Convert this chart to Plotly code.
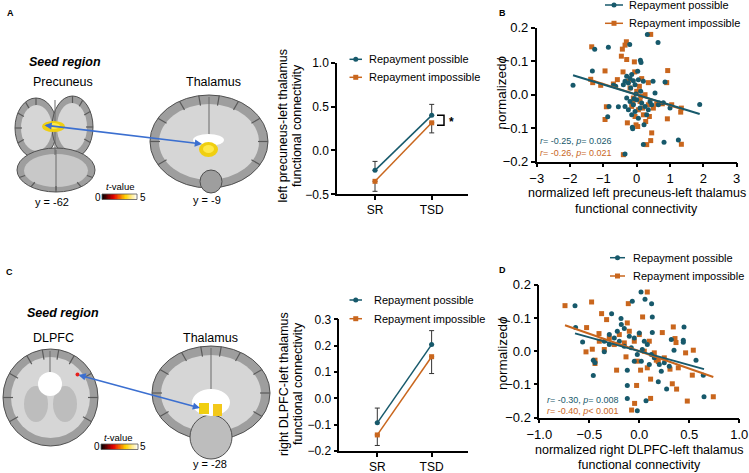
import numpy as np
import plotly.graph_objects as go

W, H = 749, 473
TEAL = "#17596b"
ORANGE = "#c9661d"
FONT = "Liberation Sans, Arial, sans-serif"

# ---- data ----
conditions = ["SR", "TSD"]

# panel A: left precuneus - left thalamus FC
a_possible = [-0.227, 0.400]
a_possible_err = [0.102, 0.125]
a_impossible = [-0.352, 0.315]
a_impossible_err = [0.114, 0.115]

# panel C: right DLPFC - left thalamus FC
c_possible = [-0.093, 0.204]
c_possible_err = [0.056, 0.053]
c_impossible = [-0.139, 0.158]
c_impossible_err = [0.040, 0.064]

# panel B scatter
b_possible_x = [-1.91, -1.26, -0.85, -1.33, -0.70, -0.63, -0.83, -0.87, -0.55, -0.35,
                -0.21, 0.32, 0.64, 0.11, 0.13, -0.35, -0.30, -0.25, -0.20, -0.15,
                -0.10, -0.05, -0.18, -0.40, 0.03, 0.05, 0.20, 0.49, 0.85, 0.80,
                0.65, 1.89, 1.25, 0.82, 0.20, -0.35, -0.13, -0.12, -0.30, -0.20,
                -0.10, 0.00, 0.10, 0.15, 0.25, 0.35, 0.40, 0.30, 0.45, -0.05,
                0.05, -0.15, 0.12, -0.25, 1.00, 0.55, 0.22, -0.02, 0.68, -0.08]
b_possible_y = [0.028, 0.136, 0.142, 0.071, 0.028, 0.025, -0.035, -0.066, -0.036, -0.035,
                0.150, 0.180, 0.156, 0.103, 0.096, 0.040, 0.055, 0.035, 0.048, 0.060,
                0.042, 0.030, 0.020, 0.030, 0.070, 0.045, 0.040, 0.040, 0.038, -0.024,
                -0.030, -0.029, -0.135, -0.142, -0.149, -0.177, -0.097, -0.102, -0.010, -0.020,
                -0.030, -0.015, -0.040, -0.025, -0.035, -0.045, -0.020, -0.060, -0.030, -0.050,
                -0.070, -0.060, 0.010, -0.045, -0.040, 0.005, -0.090, 0.002, -0.025, -0.012]
b_impossible_x = [-1.35, -0.43, -0.35, -0.31, 0.42, -0.46, -0.30, -0.07, -0.95, 0.93,
                  -1.38, -1.32, -1.08, -0.58, -0.41, -0.06, 0.15, 0.35, 0.90, -0.91,
                  -0.95, -0.11, -0.28, 0.03, 0.27, 0.45, 0.42, 0.30, -0.40, 1.34,
                  1.32, 1.34, 0.92, 1.05, 0.77, 0.10, 0.05, -0.10, 0.00, 0.20,
                  0.35, 0.50, -0.20, 0.08, -0.05, 0.18, 0.38, -0.15, 0.25, 0.12,
                  -0.25, -0.02, 0.60, -0.70]
b_impossible_y = [0.143, 0.136, 0.148, 0.158, 0.180, 0.115, 0.105, 0.098, 0.071, 0.072,
                  0.046, 0.036, 0.028, 0.045, 0.068, 0.068, 0.048, 0.036, 0.036, -0.036,
                  -0.074, -0.025, -0.084, -0.095, -0.080, -0.114, -0.137, -0.149, -0.179, -0.148,
                  -0.052, -0.040, -0.072, -0.030, -0.027, -0.020, -0.045, -0.010, 0.010, -0.060,
                  -0.030, -0.040, 0.020, 0.025, -0.065, -0.040, -0.065, -0.035, 0.000, -0.005,
                  0.040, -0.090, -0.028, 0.032]

# panel D scatter
d_possible_x = [-0.643, -0.637, -0.567, -0.46, -0.443, -0.46, -0.35, -0.277, -0.183, 0.017,
                0.057, -0.07, 0.123, 0.13, 0.13, 0.447, 0.44, 0.44, 0.347, 0.567,
                0.64, 0.647, 0.273, 0.19, -0.12, -0.12, -0.02, 0.067, -0.12, -0.30,
                -0.25, -0.22, -0.20, -0.15, -0.10, -0.05, 0.00, 0.05, 0.08, -0.08,
                -0.02, -0.05, 0.02, 0.10, 0.15, 0.20, 0.25, 0.30, 0.22, 0.12,
                -0.15, -0.30, -0.35, 0.03, -0.18, 0.32]
d_possible_y = [0.137, 0.071, 0.028, -0.027, -0.035, -0.073, -0.002, 0.113, 0.098, 0.178,
                0.156, 0.150, 0.143, 0.103, 0.056, 0.073, 0.033, 0.027, 0.003, -0.027,
                -0.072, -0.137, -0.114, -0.092, -0.103, -0.142, -0.179, -0.149, -0.057, 0.050,
                0.040, 0.060, 0.030, 0.068, 0.045, 0.040, 0.055, 0.030, 0.020, 0.010,
                -0.010, -0.030, -0.030, -0.040, -0.020, -0.040, -0.035, -0.045, -0.060, -0.010,
                0.015, 0.020, 0.030, 0.005, 0.080, 0.035]
d_impossible_x = [-0.743, -0.477, -0.377, -0.327, -0.11, 0.08, 0.033, -0.12, -0.527, -0.403,
                  -0.533, -0.47, -0.443, -0.443, -0.227, -0.133, 0.34, 0.23, 0.357, 0.367,
                  0.463, 0.54, 0.53, 0.74, 0.48, 0.373, 0.33, 0.113, -0.027, 0.113,
                  -0.047, -0.077, 0.013, 0.17, 0.19, 0.307, 0.39, -0.40, -0.30, -0.20,
                  -0.25, -0.10, -0.05, 0.00, 0.05, 0.10, 0.15, -0.15, -0.02, 0.25,
                  0.08, -0.35]
d_impossible_y = [0.137, 0.148, 0.113, 0.095, 0.143, 0.178, 0.103, 0.085, 0.071, 0.053,
                  -0.002, 0.006, -0.027, -0.037, -0.057, -0.017, 0.073, 0.056, 0.038, 0.026,
                  -0.005, 0.003, -0.072, -0.137, -0.150, -0.114, -0.098, -0.084, -0.103, -0.142,
                  -0.157, -0.177, -0.057, -0.027, -0.031, -0.054, -0.050, 0.030, 0.040, 0.050,
                  0.020, 0.060, 0.030, 0.050, 0.000, 0.030, -0.005, 0.025, -0.030, -0.020,
                  -0.050, 0.005]

# fitted lines (intercept, slope)
b_fit_possible = (0.0, -0.0305)
b_fit_impossible = (0.0, -0.032)
d_fit_possible = (0.0, -0.0835)
d_fit_impossible = (0.0, -0.105)

stats_b = ["<i>r</i>= -0.25, <i>p</i>= 0.026", "<i>r</i>= -0.26, <i>p</i>= 0.021"]
stats_d = ["<i>r</i>= -0.30, <i>p</i>= 0.008", "<i>r</i>= -0.40, <i>p</i>< 0.001"]
legend_names = ["Repayment possible", "Repayment impossible"]


def px(x):
    return x / W


def py(y):
    return 1 - y / H


def dom_x(a, b):
    return [px(a), px(b)]


def dom_y(top, bottom):
    return [py(bottom), py(top)]


def axis_style(size=12, **kw):
    d = dict(showline=True, linecolor="black", linewidth=1.5, ticks="outside",
             ticklen=4, tickwidth=1.5, tickcolor="black", showgrid=False,
             zeroline=False, automargin=False,
             tickfont=dict(size=size, color="black", family=FONT))
    d.update(kw)
    return d


def ell(x0, y0, x1, y1, fill, line="#505050", lw=1):
    return dict(type="circle", xref="paper", yref="paper", x0=px(x0), x1=px(x1),
                y0=py(y1), y1=py(y0), fillcolor=fill,
                line=dict(color=line, width=lw if line else 0), layer="above")


def rect(x0, y0, x1, y1, fill, line=None, lw=0):
    return dict(type="rect", xref="paper", yref="paper", x0=px(x0), x1=px(x1),
                y0=py(y1), y1=py(y0), fillcolor=fill,
                line=dict(color=line or fill, width=lw), layer="above")


def seg(x0, y0, x1, y1, color, w=1.5):
    return dict(type="line", xref="paper", yref="paper", x0=px(x0), x1=px(x1),
                y0=py(y0), y1=py(y1), line=dict(color=color, width=w), layer="above")


def sulci(cx, cy, rx, ry, angles, depth, color="#5a5a5a"):
    # short dark strokes from the rim towards the centre of a slice
    out = []
    for a in angles:
        t = np.radians(a)
        x0, y0 = cx + rx * np.cos(t), cy + ry * np.sin(t)
        x1, y1 = cx + (rx - depth) * np.cos(t), cy + (ry - depth) * np.sin(t)
        out.append(seg(x0, y0, x1, y1, color, 1.2))
    return out


def text(x, y, s, size=12, anchor="center", angle=0, color="black", bold=False):
    if bold:
        s = "<b>" + s + "</b>"
    return dict(x=px(x), y=py(y), xref="paper", yref="paper", text=s, showarrow=False,
                xanchor=anchor, yanchor="middle", textangle=angle,
                font=dict(size=size, color=color, family=FONT))


fig = go.Figure()

# ---- line plots (A, C) ----
for xa, ya, pos, pos_e, imp, imp_e in [("x", "y", a_possible, a_possible_err, a_impossible, a_impossible_err),
                                        ("x3", "y3", c_possible, c_possible_err, c_impossible, c_impossible_err)]:
    fig.add_trace(go.Scatter(
        x=[0, 1], y=imp, xaxis=xa, yaxis=ya, mode="lines+markers",
        line=dict(color=ORANGE, width=1.5),
        marker=dict(symbol="square", size=5, color=ORANGE),
        error_y=dict(type="data", symmetric=False, array=[0, 0], arrayminus=imp_e,
                     color="#333333", thickness=1, width=2.5),
        showlegend=False, cliponaxis=False))
    fig.add_trace(go.Scatter(
        x=[0, 1], y=pos, xaxis=xa, yaxis=ya, mode="lines+markers",
        line=dict(color=TEAL, width=1.5),
        marker=dict(symbol="circle", size=5, color=TEAL),
        error_y=dict(type="data", symmetric=False, array=pos_e, arrayminus=[0, 0],
                     color="#333333", thickness=1, width=2.5),
        showlegend=False, cliponaxis=False))

# ---- scatter plots (B, D) ----
for xa, ya, sets in [("x2", "y2", [(b_possible_x, b_possible_y, b_fit_possible, TEAL, "circle"),
                                   (b_impossible_x, b_impossible_y, b_fit_impossible, ORANGE, "square")]),
                     ("x4", "y4", [(d_possible_x, d_possible_y, d_fit_possible, TEAL, "circle"),
                                   (d_impossible_x, d_impossible_y, d_fit_impossible, ORANGE, "square")])]:
    for xs, ys, fit, col, sym in sets[::-1]:
        fig.add_trace(go.Scatter(x=xs, y=ys, xaxis=xa, yaxis=ya, mode="markers",
                                 marker=dict(symbol=sym, size=5, color=col),
                                 showlegend=False, cliponaxis=False))
    for xs, ys, fit, col, sym in sets[::-1]:
        xl = np.array([min(xs), max(xs)])
        fig.add_trace(go.Scatter(x=xl, y=fit[0] + fit[1] * xl, xaxis=xa, yaxis=ya,
                                 mode="lines", line=dict(color=col, width=2),
                                 showlegend=False))

# ---- colour bars ----
scale = [np.linspace(0, 5, 60)]
for xa, ya in [("x5", "y5"), ("x6", "y6")]:
    fig.add_trace(go.Heatmap(z=scale, xaxis=xa, yaxis=ya, colorscale="Hot",
                             showscale=False, hoverinfo="skip"))

fig.update_layout(
    width=W, height=H, margin=dict(l=0, r=0, t=0, b=0, pad=0, autoexpand=False),
    paper_bgcolor="white", plot_bgcolor="white", showlegend=False,
    font=dict(family=FONT, color="black"),
    xaxis=axis_style(domain=dom_x(337, 468), range=[-0.67, 1.64], anchor="y",
                     tickvals=[0, 1], ticktext=conditions),
    yaxis=axis_style(domain=dom_y(62.7, 194.3), range=[-0.5, 1.0], anchor="x",
                     tickvals=[-0.5, 0, 0.5, 1.0], tickformat=".1f"),
    xaxis2=axis_style(13, domain=dom_x(536.7, 736.7), range=[-3, 3], anchor="y2",
                      tickvals=[-3, -2, -1, 0, 1, 2, 3]),
    yaxis2=axis_style(13, domain=dom_y(27.7, 161.7), range=[-0.2, 0.2], anchor="x2",
                      tickvals=[-0.2, -0.1, 0, 0.1, 0.2], tickformat=".1f"),
    xaxis3=axis_style(domain=dom_x(339.3, 468), range=[-0.70, 1.67], anchor="y3",
                      tickvals=[0, 1], ticktext=conditions),
    yaxis3=axis_style(domain=dom_y(319.3, 451), range=[-0.2, 0.3], anchor="x3",
                      tickvals=[-0.2, -0.1, 0, 0.1, 0.2, 0.3], tickformat=".1f"),
    xaxis4=axis_style(13, domain=dom_x(539.3, 739.3), range=[-1, 1], anchor="y4",
                      tickvals=[-1, -0.5, 0, 0.5, 1], tickformat=".1f"),
    yaxis4=axis_style(13, domain=dom_y(284.7, 417.7), range=[-0.2, 0.2], anchor="x4",
                      tickvals=[-0.2, -0.1, 0, 0.1, 0.2], tickformat=".1f"),
    xaxis5=dict(domain=dom_x(102, 137), visible=False, anchor="y5", automargin=False),
    yaxis5=dict(domain=dom_y(194, 199.5), visible=False, anchor="x5", automargin=False),
    xaxis6=dict(domain=dom_x(101, 138), visible=False, anchor="y6", automargin=False),
    yaxis6=dict(domain=dom_y(444, 449.5), visible=False, anchor="x6", automargin=False),
)

shapes = []
ann = []

# ---- brain slices, panel A ----
shapes += [
    ell(15, 98, 57, 158, "#9e9e9e"), ell(52, 96, 93, 158, "#9e9e9e"),
    ell(21, 105, 52, 151, "#d6d6d6", None), ell(57, 103, 87, 151, "#d6d6d6", None),
    ell(17, 148, 95, 192, "#9e9e9e"), ell(24, 154, 88, 187, "#c8c8c8", None),
    seg(55, 100, 55, 155, "#6a6a6a", 1), seg(56, 150, 56, 190, "#6a6a6a", 1),
]
shapes += sulci(36, 128, 21, 30, [150, 180, 210, 240, 270], 7)
shapes += sulci(72.5, 127, 20.5, 31, [-90, -60, -30, 0, 30], 7)
shapes += sulci(56, 170, 39, 22, [20, 50, 90, 130, 160], 6)
shapes += [ell(42, 121, 65, 132, "#f0cf10", None), ell(47, 123, 60, 129, "#ffe94a", None)]
shapes += [
    ell(150, 95, 268, 188, "#9e9e9e"), ell(159, 104, 259, 180, "#d6d6d6", None),
    ell(200, 170, 222, 193, "#9e9e9e"),
    seg(209, 97, 209, 135, "#6a6a6a", 1),
]
shapes += sulci(209, 141.5, 59, 46.5, [-150, -120, -100, -80, -60, -30, 0, 30, 150, 180], 10)
shapes += [
    ell(193, 134, 224, 146, "white", None),
    ell(199, 142, 218, 157, "#f0cf10", None), ell(203, 145, 214, 153, "#ffe94a", None),
]
# ---- brain slices, panel C ----
shapes += [
    ell(3, 349, 98, 446, "#9e9e9e"), ell(11, 357, 90, 438, "#d6d6d6", None),
    ell(24, 386, 48, 422, "#bdbdbd", None), ell(53, 386, 77, 422, "#bdbdbd", None),
    seg(50, 351, 50, 372, "#6a6a6a", 1),
]
shapes += sulci(50.5, 397.5, 47.5, 48.5, [-150, -120, -100, -80, -60, -30, 0, 30, 150, 180], 10)
shapes += [
    ell(38, 372, 62, 396, "white", None),
    ell(75.5, 372.5, 79.5, 376.5, "#e8201c", None),
    ell(152, 346, 270, 440, "#9e9e9e"), ell(161, 355, 261, 432, "#d6d6d6", None),
]
shapes += sulci(211, 393, 59, 47, [-150, -120, -100, -80, -60, -30, 0, 30, 150, 180], 10)
shapes += [
    ell(190, 415, 232, 459, "#bdbdbd"),
    seg(211, 348, 211, 389, "#6a6a6a", 1),
    ell(192, 389, 230, 416, "white", None),
    rect(199, 403, 209, 414, "#f0cf10"), rect(213, 404, 222, 416, "#f3c81a"),
]
# colour bar frames
shapes += [dict(type="rect", xref="paper", yref="paper", x0=px(102), x1=px(137),
                y0=py(199.5), y1=py(194), line=dict(color="#555", width=0.8)),
           dict(type="rect", xref="paper", yref="paper", x0=px(101), x1=px(138),
                y0=py(449.5), y1=py(444), line=dict(color="#555", width=0.8))]

# connection arrows
for (x0, y0), (x1, y1) in [((43, 125), (202, 144)), ((77, 374.5), (200, 408))]:
    ann.append(dict(x=px(x1), y=py(y1), xref="paper", yref="paper", ax=x0 - x1, ay=y0 - y1,
                    axref="pixel", ayref="pixel", text="", showarrow=True,
                    arrowhead=2, arrowside="end+start", arrowsize=0.9, arrowwidth=1.6,
                    arrowcolor="#3b6fd0", standoff=0, startstandoff=0))

# brain labels
ann += [
    text(5, 12.7, "A", 9, "left", bold=True), text(4, 272, "C", 9, "left", bold=True),
    text(496.7, 12.7, "B", 9, "left", bold=True), text(496.7, 270.3, "D", 9, "left", bold=True),
    text(27, 61.7, "<i>Seed region</i>", 12.5, "left", bold=True),
    text(62.7, 81.7, "Precuneus", 12.5), text(213, 81.7, "Thalamus", 12.5),
    text(52, 201.7, "y = -62", 11), text(207, 200, "y = -9", 11),
    text(120, 186.7, "<i>t</i>-value", 9.5),
    text(97.7, 197, "0", 10), text(142.7, 197, "5", 10),
    text(25, 313.3, "<i>Seed region</i>", 12.5, "left", bold=True),
    text(53, 338.3, "DLPFC", 12.5), text(210.7, 337.7, "Thalamus", 12.5),
    text(210, 464.3, "y = -28", 11),
    text(119, 437.7, "<i>t</i>-value", 9.5),
    text(97, 446.7, "0", 10), text(143, 446.7, "5", 10),
]

# axis titles
ann += [
    text(282.5, 126, "left precuneus-left thalamus", 12.5, angle=-90),
    text(297, 126, "functional connectivity", 12.5, angle=-90),
    text(284, 384, "right DLPFC-left thalamus", 12.5, angle=-90),
    text(298, 384, "functional connectivity", 12.5, angle=-90),
    text(501, 92.5, "normalized<i>ϕ</i>", 13.5, angle=-90),
    text(502, 353, "normalized<i>ϕ</i>", 13.5, angle=-90),
    text(636.7, 193, "normalized left precuneus-left thalamus", 12.5),
    text(636.7, 208.5, "functional connectivity", 12.5),
    text(639.3, 450, "normalized right DLPFC-left thalamus", 12.5),
    text(639.3, 465.3, "functional connectivity", 12.5),
]

# correlation stats
ann += [
    text(538, 141, stats_b[0], 9, "left", color=TEAL),
    text(538, 152.7, stats_b[1], 9, "left", color=ORANGE),
    text(545, 400.3, stats_d[0], 9, "left", color=TEAL),
    text(545, 411, stats_d[1], 9, "left", color=ORANGE),
]

# significance bracket in A
shapes.append(dict(type="path", xref="paper", yref="paper",
                   path="M {} {} L {} {} L {} {} L {} {}".format(
                       px(437), py(115.3), px(444), py(115.3), px(444), py(125.3), px(437), py(125.3)),
                   line=dict(color="black", width=1.5)))
ann.append(text(451, 122, "*", 12, bold=True))

# legends
for lx0, lx1, tx, ys in [(349.5, 362, 367, (59.3, 77.3)), (605, 623, 627, (5, 23.3)),
                         (349.5, 362, 371.7, (300, 318.7)), (610, 625, 631, (257.7, 276))]:
    cx = (lx0 + lx1) / 2
    for name, col, yy, sq in [(legend_names[0], TEAL, ys[0], False), (legend_names[1], ORANGE, ys[1], True)]:
        shapes.append(seg(lx0, yy, lx1, yy, col, 1.5))
        if sq:
            shapes.append(rect(cx - 2.5, yy - 2.5, cx + 2.5, yy + 2.5, col))
        else:
            shapes.append(ell(cx - 2.5, yy - 2.5, cx + 2.5, yy + 2.5, col, None))
        ann.append(text(tx, yy, name, 11, "left"))

fig.update_layout(shapes=shapes, annotations=ann)
fig.write_html("out.html", config={"displayModeBar": False},
               post_script="document.body.style.margin='0';document.body.style.overflow='hidden';")
